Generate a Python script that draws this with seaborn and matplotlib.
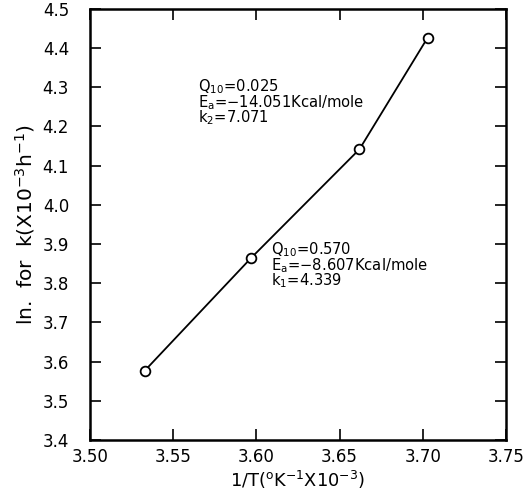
import matplotlib
matplotlib.use("Agg")
import matplotlib.pyplot as plt
import seaborn as sns
import pandas as pd

# Arrhenius-type plot: ln k against reciprocal temperature
inv_temp = [3.533, 3.597, 3.662, 3.703]
ln_k = [3.577, 3.865, 4.142, 4.427]

x_ticks = [3.50, 3.55, 3.60, 3.65, 3.70, 3.75]
y_ticks = [3.4, 3.5, 3.6, 3.7, 3.8, 3.9, 4.0, 4.1, 4.2, 4.3, 4.4, 4.5]

upper_note = [r"$\mathregular{Q_{10}}$=0.025",
              r"$\mathregular{E_a}$=−14.051Kcal/mole",
              r"$\mathregular{k_2}$=7.071"]
lower_note = [r"$\mathregular{Q_{10}}$=0.570",
              r"$\mathregular{E_a}$=−8.607Kcal/mole",
              r"$\mathregular{k_1}$=4.339"]

sns.set_theme(style="ticks")
plt.rcParams["font.family"] = ["DejaVu Sans"]
plt.rcParams["mathtext.default"] = "regular"
plt.rcParams["text.color"] = "black"
plt.rcParams["axes.labelcolor"] = "black"

df = pd.DataFrame({"inv_temp": inv_temp, "ln_k": ln_k})

fig = plt.figure(figsize=(5.32, 4.96), dpi=100)
ax = fig.add_axes([0.169, 0.113, 0.782, 0.869])

sns.lineplot(data=df, x="inv_temp", y="ln_k", ax=ax, color="black",
             linewidth=1.3, marker="o", markersize=7,
             markerfacecolor="white", markeredgecolor="black",
             markeredgewidth=1.3)

ax.set_xlim(3.50, 3.75)
ax.set_ylim(3.4, 4.5)
ax.set_xticks(x_ticks)
ax.set_yticks(y_ticks)
ax.set_xticklabels([f"{v:.2f}" for v in x_ticks])
ax.set_yticklabels([f"{v:.1f}" for v in y_ticks])

ax.tick_params(direction="in", length=8, width=1.2, top=True, right=True,
               labeltop=False, labelright=False, labelsize=12,
               colors="black")
ax.tick_params(axis="x", pad=6)
ax.tick_params(axis="y", pad=15)
for side in ax.spines.values():
    side.set_visible(True)
    side.set_linewidth(1.8)
    side.set_color("black")

ax.set_xlabel(r"1/T($\mathregular{^o}$K$^{-1}$X10$^{-3}$)", fontsize=12.8,
              labelpad=2)
ax.set_ylabel(r"ln.  for  k(X10$^{-3}$h$^{-1}$)", fontsize=14.5, labelpad=4)

# Each note is one multi-line text block
ax.text(3.565, 4.325, "\n".join(upper_note), fontsize=10.6, va="top",
        ha="left", linespacing=0.78)
ax.text(3.609, 3.909, "\n".join(lower_note), fontsize=10.6, va="top",
        ha="left", linespacing=0.78)

fig.savefig("out.png", dpi=100)
